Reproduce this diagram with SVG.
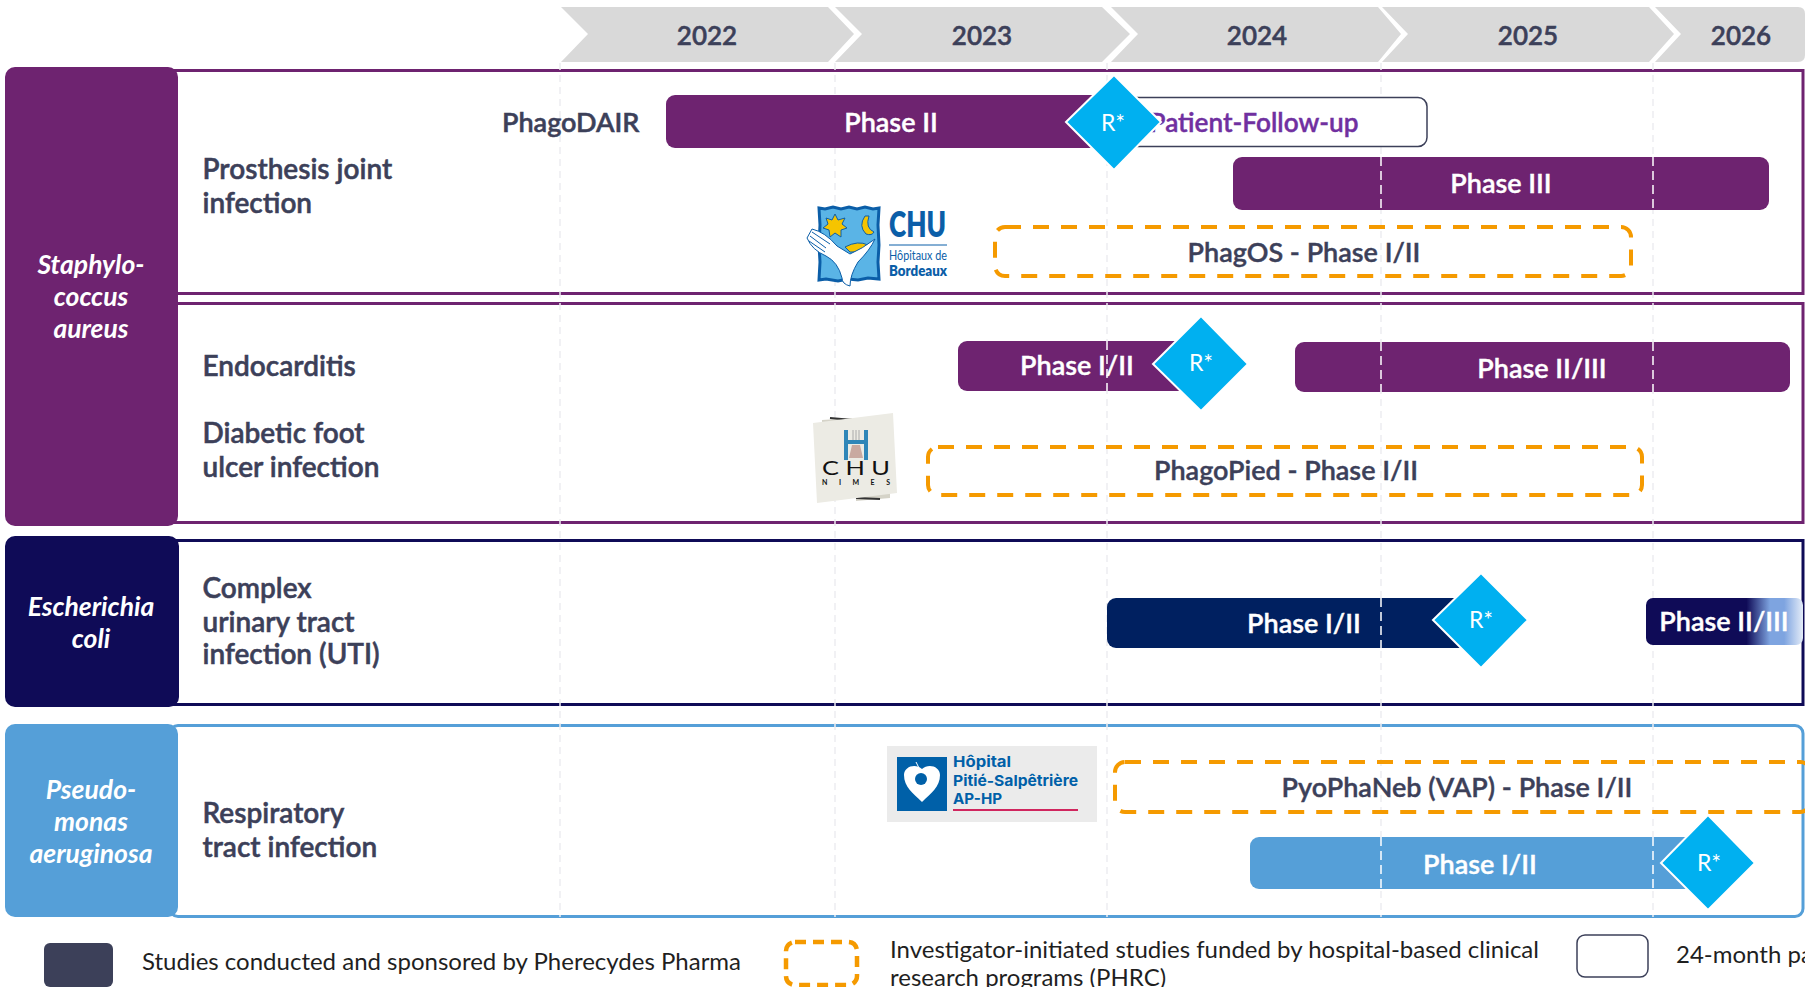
<svg xmlns="http://www.w3.org/2000/svg" width="1805" height="987" viewBox="0 0 1805 987">
<style>
text{font-family:Lato,"Open Sans","Liberation Sans",sans-serif}
.yr{font-size:26px;font-weight:600;fill:#3c4059;stroke:#3c4059;stroke-width:.5;text-anchor:middle}
.chev{fill:#d9d9d9}
.lbl{font-size:28px;font-weight:600;fill:#3c4059;stroke:#3c4059;stroke-width:.5}
.sp{font-size:26.500px;font-weight:700;font-style:italic;fill:#fff;text-anchor:middle}
.bar{font-size:27px;font-weight:600;fill:#fff;stroke:#fff;stroke-width:.4;text-anchor:middle}
.dt{font-size:27px;font-weight:600;fill:#3c4059;stroke:#3c4059;stroke-width:.4;text-anchor:middle}
.band{fill:#fff;stroke-width:3}
.dash{fill:none;stroke:#f59a00;stroke-width:4;stroke-dasharray:16 12}
.dia{fill:#00b0f0;stroke:#fff;stroke-width:2}
.r{font-size:23px;fill:#fff;text-anchor:middle}
.grid{stroke:#ededf1;stroke-width:1.5;stroke-dasharray:7 5;fill:none}
.wgrid{stroke:#fff;stroke-width:1.500;stroke-dasharray:9 5;fill:none}
.leg{font-size:24px;fill:#1f1f1f}
.p{fill:#6e2370}
.lt{fill:#0060a8;font-size:15px;font-weight:700;font-family:Inter,Lato,sans-serif}
</style>
<defs><linearGradient id="fade" x1="0" x2="1" y1="0" y2="0"><stop offset="0" stop-color="#0f0b57"/><stop offset=".64" stop-color="#0f0b57"/><stop offset=".79" stop-color="#7ea4e0"/><stop offset=".88" stop-color="#7ea4e0"/><stop offset="1" stop-color="#e4ecf8"/></linearGradient></defs>

<g id="timeline">
<polygon class="chev" points="561,7 828,7 854,34 828,62 561,62 588,34"/>
<polygon class="chev" points="835,7 1102,7 1130,34 1102,62 835,62 862,34"/>
<polygon class="chev" points="1111,7 1378,7 1401,34 1378,62 1111,62 1138,34"/>
<polygon class="chev" points="1382,7 1649,7 1674,34 1649,62 1382,62 1408,34"/>
<path class="chev" d="M1655,7H1798Q1805,7 1805,14V55Q1805,62 1798,62H1655L1681,34Z"/>
<text class="yr" x="707" y="45">2022</text>
<text class="yr" x="982" y="45">2023</text>
<text class="yr" x="1257" y="45">2024</text>
<text class="yr" x="1528" y="45">2025</text>
<text class="yr" x="1741" y="45">2026</text>
</g>

<g id="bands">
<rect class="band" x="170" y="70.500" width="1633" height="223" stroke="#6e2370"/>
<rect class="band" x="170" y="303.500" width="1633" height="219" stroke="#6e2370"/>
<rect class="band" x="170" y="540.500" width="1633" height="164" stroke="#0f0b57"/>
<rect class="band" x="170" y="725.500" width="1633" height="191" rx="8" stroke="#559fd8"/>
</g>

<g id="connectors"><g class="grid">
<line x1="560" y1="63" x2="560" y2="917"/><line x1="835" y1="63" x2="835" y2="917"/><line x1="1107" y1="63" x2="1107" y2="917"/><line x1="1381" y1="63" x2="1381" y2="917"/><line x1="1653" y1="63" x2="1653" y2="917"/>
</g></g>

<g id="species-staph"><rect class="p" x="5" y="67" width="173" height="459" rx="10"/>
<text class="sp" x="91" y="274">Staphylo-</text><text class="sp" x="91" y="306">coccus</text><text class="sp" x="91" y="338">aureus</text></g>
<g id="species-ecoli"><rect x="5" y="536" width="174" height="171" rx="10" fill="#0f0b57"/>
<text class="sp" x="91" y="616">Escherichia</text><text class="sp" x="91" y="648">coli</text></g>
<g id="species-pseudo"><rect x="5" y="724" width="173" height="193" rx="10" fill="#559fd8"/>
<text class="sp" x="91" y="799">Pseudo-</text><text class="sp" x="91" y="831">monas</text><text class="sp" x="91" y="863">aeruginosa</text></g>

<g id="labels">
<text class="lbl" x="202.500" y="179">Prosthesis joint</text><text class="lbl" x="202.500" y="213">infection</text>
<text class="lbl" x="502" y="132" style="font-size:27px">PhagoDAIR</text>
<text class="lbl" x="202.500" y="376">Endocarditis</text>
<text class="lbl" x="202.500" y="443">Diabetic foot</text><text class="lbl" x="202.500" y="477">ulcer infection</text>
<text class="lbl" x="202.500" y="598">Complex</text><text class="lbl" x="202.500" y="632">urinary tract</text><text class="lbl" x="202.500" y="664">infection (UTI)</text>
<text class="lbl" x="202.500" y="823">Respiratory</text><text class="lbl" x="202.500" y="857">tract infection</text>
</g>

<g id="logo-bordeaux">
<path d="M819,208L825,209L833,207L841,209L849,207L857,209L865,207L873,209L879,208L878,225L879,245L878,262L879,279L868,278L858,280L848,279L838,281L826,279L819,280L820,262L819,245L820,225Z" fill="#5ab4e6" stroke="#0b5ea8" stroke-width="3"/>
<polygon points="835,214 838,220 845,218 842,224 847,228 841,230 841,237 835,233 830,237 829,230 823,228 828,224 826,218 832,220" fill="#f5c400" stroke="#0b5ea8"/>
<path d="M865,216Q858,226 866,234Q872,236 874,232Q865,228 869,216Z" fill="#f5c400" stroke="#0b5ea8"/>
<path d="M845,247Q858,240 868,245Q862,253 850,252Z" fill="#f5c400" stroke="#0b5ea8"/>
<path d="M812,229Q825,232 837,246L850,254Q862,249 875,239Q870,250 858,262Q850,275 850,286Q842,284 842,278Q838,262 826,256Q812,250 807,238Z" fill="#fff" stroke="#0b5ea8"/>
<path d="M810,236L826,248M809,241L825,252M812,232L830,244" stroke="#0b5ea8" fill="none"/>
<text x="889" y="237" font-size="35" font-weight="800" fill="#0b5ea8" textLength="57" lengthAdjust="spacingAndGlyphs">CHU</text>
<line x1="889" y1="245" x2="947" y2="245" stroke="#0b5ea8"/>
<text x="889" y="260" font-size="14" fill="#0b5ea8" textLength="58" lengthAdjust="spacingAndGlyphs">Hôpitaux de</text>
<text x="889" y="276" font-size="15" font-weight="800" fill="#0b5ea8" textLength="58" lengthAdjust="spacingAndGlyphs">Bordeaux</text>
</g>

<g id="logo-nimes">
<polygon points="822,420 852,418 852,423 822,425" fill="#d5d3c8"/>
<line x1="830" y1="418" x2="853" y2="420" stroke="#333" stroke-width="2"/>
<polygon points="856,497 890,493 890,498 856,501" fill="#d5d3c8"/>
<line x1="856" y1="498" x2="880" y2="499" stroke="#333" stroke-width="2"/>
<polygon points="813,423 893,413 897,493 817,503" fill="#ecebe4"/>
<path d="M846,430V460M866,430V460M846,442H866" stroke="#2f86b8" stroke-width="4" fill="none"/>
<path d="M856,430V440M853,430V440M859,430V440" stroke="#aaa" stroke-width="1"/>
<path d="M852,445H860L863,458H849Z" fill="#c9a9a0"/>
<text x="856" y="475" font-size="19" fill="#111" text-anchor="middle" textLength="68" lengthAdjust="spacingAndGlyphs">C H U</text>
<text x="856" y="485" font-size="7" font-weight="700" fill="#111" text-anchor="middle" textLength="68" lengthAdjust="spacing">NIMES</text>
</g>

<g id="logo-pitie">
<rect x="887" y="746" width="210" height="76" fill="#ebebeb"/>
<rect x="897" y="757" width="50" height="54" fill="#0060a8"/>
<path d="M922,802C913,793 904,787 904,775C904,766 916,763 922,769C928,763 940,766 940,775C940,787 931,793 922,802Z" fill="#fff"/>
<path d="M916,762L921,772" stroke="#fff"/>
<circle cx="921" cy="779" r="6" fill="#0060a8"/>
<text class="lt" x="953" y="767" textLength="58" lengthAdjust="spacingAndGlyphs">Hôpital</text>
<text class="lt" x="953" y="786" textLength="125" lengthAdjust="spacingAndGlyphs">Pitié-Salpêtrière</text>
<text class="lt" x="953" y="804" textLength="49" lengthAdjust="spacingAndGlyphs">AP-HP</text>
<line x1="953" y1="810" x2="1078" y2="810" stroke="#d0265e" stroke-width="2"/>
</g>

<g id="study-phagodair">
<rect x="1110" y="97.500" width="317" height="49" rx="9" fill="#fff" stroke="#3c4059" stroke-width="1.500"/>
<text class="bar" x="1254" y="132" style="fill:#7030a0;stroke:#7030a0;font-size:26.200px">Patient-Follow-up</text>
<rect class="p" x="666" y="95" width="450" height="53" rx="9"/>
<text class="bar" x="891" y="132">Phase II</text>
</g>
<g id="study-phase3"><rect class="p" x="1233" y="157" width="536" height="53" rx="9"/><text class="bar" x="1501" y="193">Phase III</text></g>
<g id="study-phagos"><rect class="dash" x="995" y="227" width="636" height="49" rx="10"/><text class="dt" x="1304" y="262">PhagOS - Phase I/II</text></g>
<g id="study-endo1"><rect class="p" x="958" y="341" width="250" height="50" rx="9"/><text class="bar" x="1077" y="375">Phase I/II</text></g>
<g id="study-endo2"><rect class="p" x="1295" y="342" width="495" height="50" rx="9"/><text class="bar" x="1542" y="378">Phase II/III</text></g>
<g id="study-phagopied"><rect class="dash" x="928" y="447" width="714" height="48" rx="10"/><text class="dt" x="1286" y="480">PhagoPied - Phase I/II</text></g>
<g id="study-uti1"><rect x="1107" y="598" width="380" height="50" rx="9" fill="#002060"/><text class="bar" x="1304" y="633">Phase I/II</text></g>
<g id="study-uti2"><rect x="1646" y="598" width="157" height="47" rx="7" fill="url(#fade)"/><text class="bar" x="1724" y="631">Phase II/III</text></g>
<g id="study-pyo"><rect class="dash" x="1115" y="762" width="695" height="50" rx="10"/><text class="dt" x="1457" y="797">PyoPhaNeb (VAP) - Phase I/II</text></g>
<g id="study-resp"><rect x="1250" y="837" width="460" height="52" rx="9" fill="#559fd8"/><text class="bar" x="1480" y="874">Phase I/II</text></g>

<g id="bar-gridlines" class="wgrid">
<line x1="1381" y1="157" x2="1381" y2="210"/><line x1="1653" y1="157" x2="1653" y2="210"/>
<line x1="1107" y1="341" x2="1107" y2="391"/>
<line x1="1381" y1="342" x2="1381" y2="392"/><line x1="1653" y1="342" x2="1653" y2="392"/>
<line x1="1381" y1="598" x2="1381" y2="648"/>
<line x1="1381" y1="837" x2="1381" y2="889"/><line x1="1653" y1="837" x2="1653" y2="889"/>
</g>

<g id="milestones">
<polygon class="dia" points="1114,75 1161,122 1114,170 1066,122"/><text class="r" x="1113" y="131">R*</text>
<polygon class="dia" points="1201,316 1248,364 1201,411 1153,364"/><text class="r" x="1201" y="371">R*</text>
<polygon class="dia" points="1481,573 1528,620 1481,668 1433,620"/><text class="r" x="1481" y="628">R*</text>
<polygon class="dia" points="1708,815 1755,863 1708,910 1661,863"/><text class="r" x="1709" y="871">R*</text>
</g>

<g id="legend">
<rect x="44" y="943" width="69" height="44" rx="6" fill="#3c4059"/>
<text class="leg" x="142" y="970">Studies conducted and sponsored by Pherecydes Pharma</text>
<rect class="dash" x="786" y="942" width="71" height="43" rx="9" style="stroke-width:4.500;stroke-dasharray:11 7"/>
<text class="leg" x="890" y="958">Investigator-initiated studies funded by hospital-based clinical</text>
<text class="leg" x="890" y="986">research programs (PHRC)</text>
<rect x="1577" y="935" width="71" height="42" rx="8" fill="#fff" stroke="#3c4059" stroke-width="1.500"/>
<text class="leg" x="1676" y="963">24-month pa</text>
</g>
</svg>
